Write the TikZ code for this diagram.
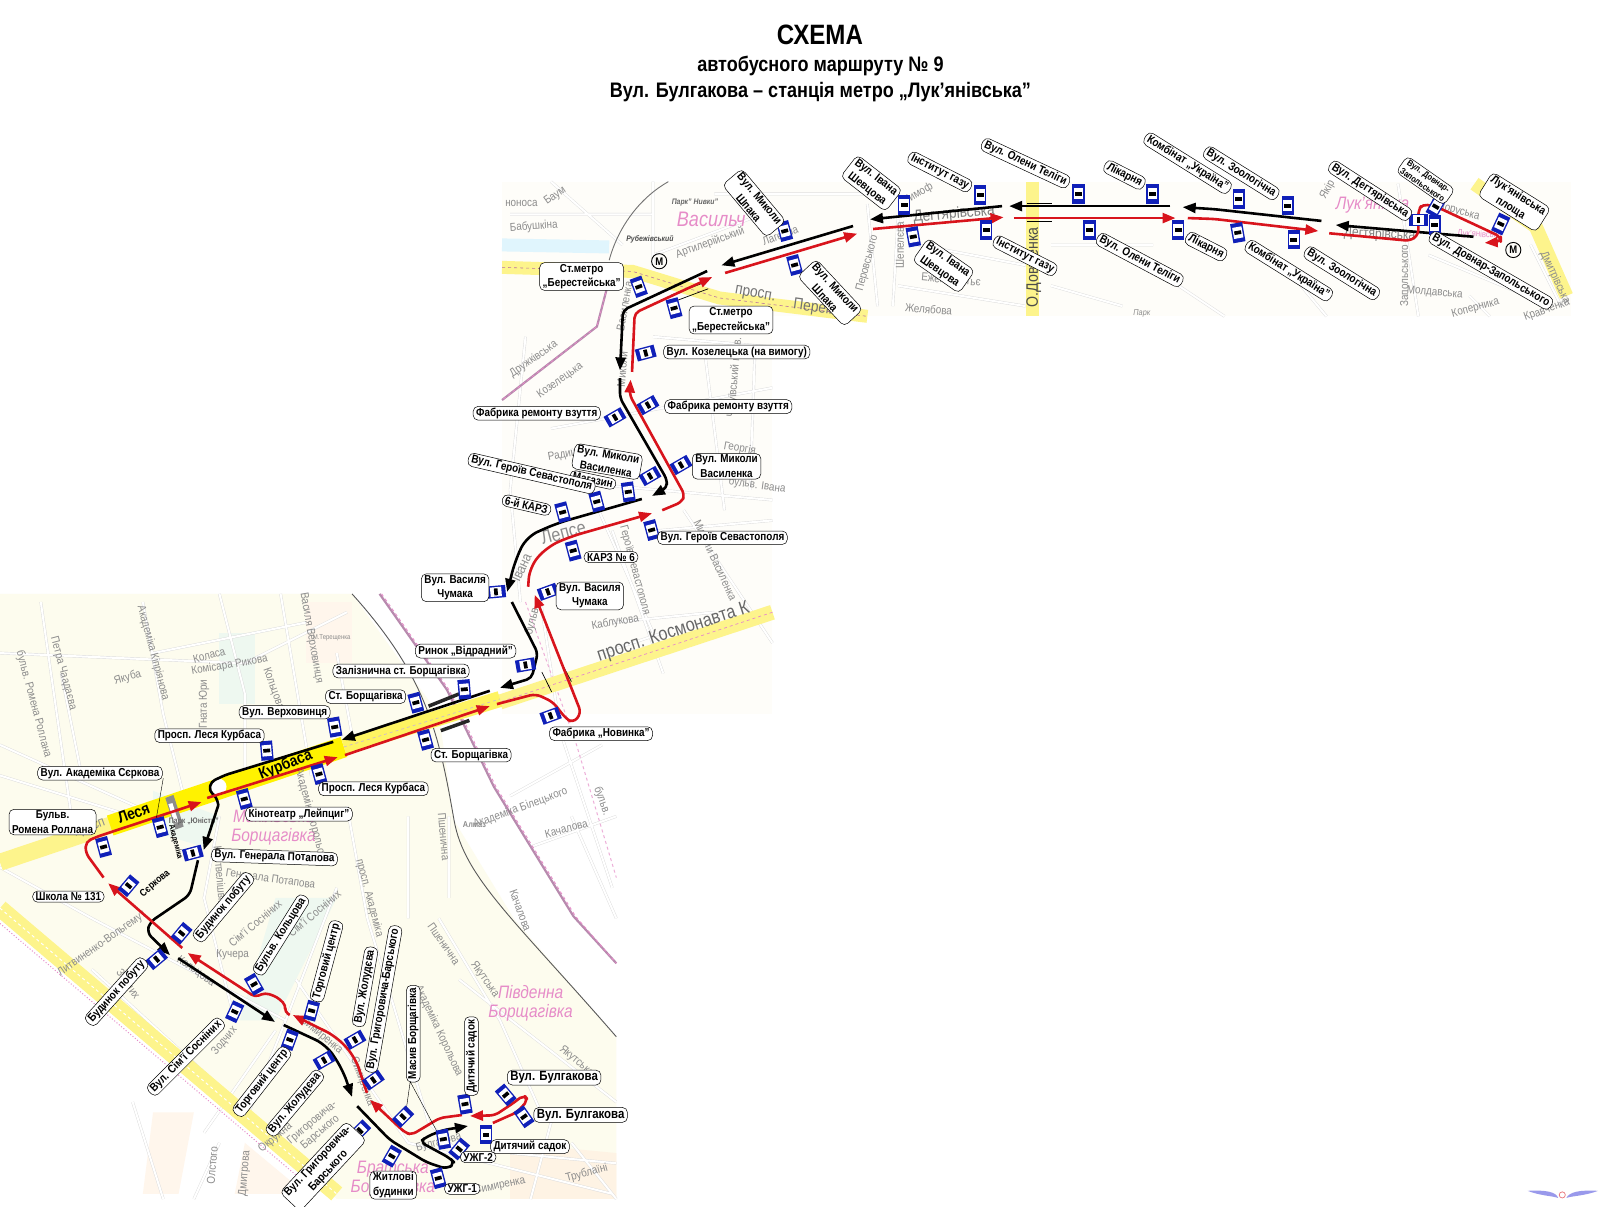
\documentclass[tikz,border=0pt]{standalone}
\usepackage{fontspec}
\setmainfont[FakeStretch=0.86]{Liberation Sans}
\usetikzlibrary{arrows.meta}
\definecolor{cream}{HTML}{FDFCEE}
\definecolor{mroad}{HTML}{FDF48C}
\definecolor{sroad}{HTML}{FFF200}
\definecolor{stopblue}{HTML}{1020B8}
\definecolor{rred}{HTML}{D8141C}
\definecolor{pinkd}{HTML}{E68CC8}
\definecolor{railp}{HTML}{B88AAE}
\definecolor{parkg}{HTML}{EEF8F0}
\tikzset{
 x=1.0204pt,y=-1.0204pt,
 lab/.style={draw=black,line width=.5pt,fill=white,rounded corners=5pt,font=\bfseries\fontsize{11.5}{14.5}\selectfont,align=center,inner xsep=3pt,inner ysep=1.5pt},
 bigl/.style={lab,font=\bfseries\fontsize{13.3}{15}\selectfont},
 tinyl/.style={lab,font=\bfseries\fontsize{8.8}{10.5}\selectfont},
 blk/.style={draw=black,line width=2.6pt,line join=round,rounded corners=5pt},
 redr/.style={draw=rred,line width=2.6pt,line join=round,rounded corners=5pt},
 tipp/.style={-{Triangle[length=13pt,width=10pt]}},
 street/.style={draw=black!14,double=white,double distance=2pt,line width=.4pt,line join=round},
 sname/.style={text=black!45,font=\fontsize{11.5}{12.5}\selectfont,inner sep=0pt,align=center},
 pname/.style={text=pinkd,font=\itshape\fontsize{18}{19}\selectfont,inner sep=0pt,align=center},
 bname/.style={text=black,font=\bfseries\fontsize{16}{18}\selectfont,inner sep=0pt},
}
\newcounter{lbn}
\newcommand{\lab}[5][lab]{\stepcounter{lbn}\node[#1,rotate=#4] (L\thelbn) at (#2,#3) {#5};}
\newcommand{\sn}[5][sname]{\stepcounter{lbn}\node[#1,rotate=#4] (S\thelbn) at (#2,#3) {#5};}
\newcommand{\stopsign}[3]{\begin{scope}[shift={(#1,#2)},rotate=#3]
 \fill[stopblue] (-6,-9.5) rectangle (6,9.5);
 \fill[white] (-4.6,-5.5) rectangle (4.6,5.5);
 \fill[black] (-3.4,-1.8) rectangle (3.4,1.8);
 \end{scope}}
\begin{document}
\begin{tikzpicture}
\useasboundingbox (0,0) rectangle (1568,1181.9);
\fill[white] (0,0) rectangle (1568,1181.9);
% ---------- map ground
\fill[cream,opacity=.35] (492,178) rectangle (1540,310);
\fill[cream,opacity=.35] (492,310) rectangle (757,700);
\fill[cream] (0,582) -- (345,582) -- (430,700) -- (445,804) -- (504,901) -- (604,1016) -- (604,1175) -- (330,1175) -- (0,890) -- cycle;
\fill[white] (0,900) -- (330,1175) -- (0,1175) -- cycle;
\fill[parkg] (215,620) rectangle (250,690);
\fill[parkg] (150,775) -- (215,800) -- (200,830) -- (150,815) -- cycle;
\fill[parkg] (270,880) -- (330,880) -- (270,1000) -- (235,1000) -- cycle;
\fill[cream!70!orange!22] (150,1090) -- (190,1090) -- (175,1170) -- (140,1170) -- cycle;
\fill[cream!70!orange!22] (240,1120) -- (300,1170) -- (230,1170) -- cycle;
\fill[cream!70!orange!30] (500,1120) -- (604,1130) -- (604,1175) -- (500,1175) -- cycle;
\fill[cream!70!orange!22] (300,590) rectangle (345,650);
% ---------- streets lower map
\draw[street]
 (0,640)--(240,650)--(340,600) (0,730)--(155,800) (0,760)--(130,800) (40,590)--(70,800)
 (140,590)--(160,700)--(180,780) (215,582)--(240,680)--(240,760) (275,582)--(305,760) (330,640)--(345,720)
 (60,660)--(80,760) (150,640)--(300,610) (0,850)--(90,900) (90,900)--(280,1000) (215,800)--(200,880)--(230,1000)
 (330,870)--(280,1000)--(240,1100) (340,790)--(360,900)--(420,1100)--(450,1130) (400,800)--(400,900)
 (290,960)--(400,1120)--(600,1170) (430,900)--(490,1000)--(530,1090) (450,960)--(604,1080)
 (440,800)--(440,880) (500,780)--(590,730) (520,830)--(604,800) (560,800)--(604,900) (550,720)--(600,870)
 (270,1010)--(200,1110) (90,950)--(210,1060)--(310,1150) (130,1080)--(160,1175) (215,1120)--(190,1175)
 (500,1130)--(604,1140) (540,1100)--(520,1175) (560,1120)--(604,1175);
% ---------- streets middle and top maps
\draw[street]
 (515,330)--(500,480)--(510,590) (540,420)--(757,380) (530,470)--(757,490) (560,440)--(640,620) (600,520)--(650,660)
 (670,500)--(757,630) (690,340)--(710,500) (740,340)--(735,480) (645,520)--(757,510) (530,590)--(545,690)
 (640,330)--(757,340) (600,610)--(700,600) (590,640)--(650,620)
 (500,210)--(640,210) (540,178)--(610,240) (640,178)--(640,260) (640,250)--(760,205) (700,190)--(860,190)
 (850,200)--(860,300) (880,215)--(875,300) (900,240)--(1005,260) (880,280)--(1005,300) (1030,240)--(1130,240)
 (1030,280)--(1100,300) (1140,270)--(1200,310) (1250,250)--(1300,310) (1370,180)--(1390,310) (1400,250)--(1520,300)
 (1440,290)--(1460,310) (1500,240)--(1530,300);
% ---------- railways
\draw[black!65,line width=.9pt] (345,582) .. controls (418,663) and (430,718) .. (445,804) .. controls (455,860) and (504,901) .. (604,1016);
\draw[railp,line width=2.2pt] (372,582) -- (438,676) -- (484,771) -- (562,898) -- (604,944);
\draw[pinkd,line width=.9pt,dashed] (374,582) -- (440,676) -- (486,771) -- (564,898) -- (604,944);
\draw[pinkd!70,line width=1pt,dashed] (515,590) -- (565,730) -- (604,860);
\draw[black!55,line width=.9pt] (655,178) .. controls (625,195) and (605,225) .. (597,255);
\draw[cyan!12,line width=13pt] (492,240) -- (597,242);
\draw[railp,line width=2.2pt] (598,270) -- (585,320) -- (492,392);
\draw[pinkd,line width=.8pt,dashed] (598,270) -- (585,320) -- (492,392);
% ---------- main roads
\draw[mroad,line width=13pt] (492,262) -- (620,266) -- (705,292) -- (850,310);
\draw[pinkd!80!black,line width=.6pt,dashed] (492,262) -- (620,266) -- (705,292) -- (850,310);
\draw[mroad,line width=13pt] (1012,178) -- (1012,310);
\draw[mroad,line width=14pt] (1445,180) -- (1505,222) -- (1535,290);
\draw[mroad,line width=15pt] (757,600) -- (490,688);
\draw[mroad,line width=17pt] (0,845) -- (110,808);
\draw[mroad,line width=17pt] (0,890) -- (330,1170);
\draw[white,line width=1pt,dashed] (0,890) -- (330,1170);
\draw[pinkd,line width=1pt,dotted] (0,905) -- (300,1160);
\draw[sroad,line width=21pt] (108,809) -- (337,732);
\draw[mroad!70!sroad,line width=16pt] (337,732) -- (490,685);
\draw[pinkd!60!black!40,line width=.7pt,dashed] (337,732) -- (490,685);
\draw[pinkd,line width=.7pt,dashed] (757,600) -- (490,688);
\fill[black!45] (162,782) -- (170,779) -- (180,810) -- (172,813) -- cycle;
\fill[white] (165,788) -- (169,787) -- (175,806) -- (171,807) -- cycle;
% ---------- street names
\sn{511}{199}{0}{ноноса}\sn{544}{192}{35}{Баум}\sn{523}{222}{4}{Бабушкіна}
\sn[sname,font=\bfseries\itshape\fontsize{8}{9}\selectfont,text=black!70]{637}{235}{0}{Рубежівський}
\sn[sname,font=\bfseries\itshape\fontsize{8}{9}\selectfont,text=black!60]{681}{199}{0}{Парк” Нивки”}
\sn[pname,font=\itshape\fontsize{21}{23}\selectfont]{697}{215}{0}{Васильч}\sn{696}{238}{20}{Артилерійський}
\sn{765}{232}{20}{Лагерна}\sn{850}{258}{75}{Перовського}\sn{882}{240}{90}{Шепелєва}
\sn[sname,font=\fontsize{16}{18}\selectfont,text=black!50]{935}{210}{5}{Дегтярівська}
\sn[sname,font=\fontsize{16}{17}\selectfont,text=black!55]{740}{289}{-10}{просп.}
\sn[sname,font=\fontsize{16}{17}\selectfont,text=black!55]{808}{303}{-8}{Перемоги}
\sn{932}{274}{-5}{Ежена Потьє}\sn{910}{303}{-5}{Желябова}\sn{900}{190}{30}{Тимоф}
\sn[sname,font=\fontsize{16.5}{18}\selectfont,text=black!70]{1013}{262}{90}{О.Довженка}
\sn[sname,font=\itshape\fontsize{8.5}{9}\selectfont]{1119}{307}{0}{Парк}
\sn[pname]{1345}{201}{0}{Лук’янівка}\sn[sname,font=\fontsize{14}{15}\selectfont,text=black!50]{1352}{230}{-3}{Дегтярівська}
\sn{1376}{270}{90}{Запольського}\sn{1406}{287}{-5}{Молдавська}\sn{1446}{302}{15}{Коперника}
\sn{1524}{272}{-65}{Дмитрівська}\sn{1516}{304}{20}{Кравченка}\sn{1301}{186}{60}{Якір}\sn{1426}{206}{-15}{Білоруська}
\sn[sname,font=\fontsize{9}{10}\selectfont,text=pinkd]{1450}{230}{-3}{Лук’янівська}
\sn{523}{352}{35}{Дружківська}\sn{549}{373}{35}{Козелецька}\sn{610}{362}{85}{Миколи}
\sn{612}{300}{80}{Василенка}\sn{560}{445}{10}{Радищева}\sn[sname,font=\fontsize{19}{20}\selectfont]{552}{522}{15}{Лепсе}
\sn[sname,font=\fontsize{14}{15}\selectfont]{511}{556}{65}{Івана}\sn[sname,font=\fontsize{12}{13}\selectfont]{522}{608}{75}{бульв.}
\sn{725}{440}{-10}{Георгія}\sn{742}{476}{-8}{бульв. Івана}\sn{701}{549}{-65}{Миколи Василенка}\sn{622}{559}{-75}{Героїв Севастополя}
\sn{603}{610}{10}{Каблукова}\sn{720}{370}{85}{Чугуївський пров.}
\sn[sname,font=\fontsize{19}{20}\selectfont,text=black!60]{660}{620}{18}{просп. Космонавта К}
\sn{125}{664}{15}{Якуба}\sn{205}{642}{15}{Коласа}\sn{62}{660}{-75}{Петра Чаадаєва}\sn{33}{690}{-75}{бульв. Ромена Роллана}
\sn{150}{640}{-75}{Академіка Кіпріянова}\sn{200}{690}{90}{Гната Юри}\sn{225}{652}{10}{Комісара Рикова}\sn{268}{675}{-70}{Кольцова}
\sn{305}{625}{-80}{Василя Верховинця}\sn[sname,font=\fontsize{7}{8}\selectfont]{325}{625}{0}{М.Терещенка}
\sn[bname]{280}{750}{22}{Курбаса}\sn[bname]{131}{797}{20}{Леся}\sn[sname,font=\fontsize{14}{15}\selectfont]{88}{812}{20}{просп}
\sn[sname,font=\bfseries\fontsize{8}{9}\selectfont,text=black!60]{190}{805}{0}{Парк „Юність”}
\sn[sname,font=\bfseries\fontsize{8}{9}\selectfont,text=black]{172}{825}{-75}{Академіка}
\sn[sname,font=\bfseries\fontsize{10}{11}\selectfont,text=black]{152}{866}{40}{Сєркова}
\sn[pname]{268}{811}{0}{Микільська\\Борщагівка}
\sn{215}{860}{-85}{Картвелішвілі}\sn{265}{862}{-8}{Генерала Потапова}\sn{362}{880}{-75}{просп. Академіка}
\sn{305}{800}{-75}{Академіка Корольова}\sn{435}{820}{-85}{Пшенична}\sn[sname,font=\bfseries\fontsize{8.5}{9}\selectfont]{465}{808}{0}{Алмаз}
\sn{510}{792}{20}{Академіка Білецького}\sn{555}{812}{15}{Качалова}\sn{590}{785}{-70}{бульв.}\sn{510}{892}{-70}{Качалова}
\sn{100}{925}{35}{Литвиненко-Вольгемут}\sn{192}{952}{-35}{Кольцова}\sn{228}{936}{0}{Кучера}\sn{125}{965}{-55}{Зодчих}
\sn{250}{905}{40}{Сім’ї Сосніних}\sn{308}{895}{40}{Сім’ї Сосніних}\sn{220}{1020}{50}{Зодчих}
\sn{315}{1015}{-40}{Симиренка}\sn{355}{1060}{-70}{Симиренка}\sn{270}{1115}{40}{Окружна}\sn{310}{1105}{40}{Григоровича-\\Барського}
\sn{430}{1010}{-65}{Академіка Корольова}\sn{435}{925}{-55}{Пшенична}\sn{475}{960}{-55}{Якутська}\sn{565}{1040}{-40}{Якутська}
\sn{430}{1120}{15}{Булгакова}\sn{490}{1162}{12}{Симиренка}\sn{575}{1150}{15}{Трублаїні}\sn{208}{1142}{85}{Олстого}\sn{240}{1150}{85}{Дмитрова}
\sn[pname]{520}{983}{0}{Південна\\Борщагівка}\sn[pname]{385}{1155}{0}{Братська\\Борщагівка}
% ---------- bridges
\draw[black,line width=.7pt] (1006,199) -- (1031,199) (1006,216.5) -- (1031,216.5);
\draw[black,line width=.7pt] (658,289) -- (690,277) (662,295) -- (694,283);
\draw[black!85,line width=3.5pt] (420,692) -- (450,680);
\draw[black!85,line width=3.5pt] (432,716) -- (460,706);
\draw[black,line width=.7pt] (531,658.6) -- (540.6,678) (550,649) -- (560,668);
% ---------- roundabout
\fill[white] (214,771) circle (8);
% ---------- black route
\draw[blk,tipp] (1444,232) -- (1309,220.5);
\draw[blk,tipp] (1295,216.5) -- (1190,205) -- (1159,203);
\draw[blk,tipp] (1147,202) -- (989,202);
\draw[blk,tipp] (982,202) -- (852.6,215);
\draw[blk,tipp] (836,221.5) -- (707,260);
\draw[blk,tipp] (693,265.6) -- (610.5,304) -- (607.6,363);
\draw[blk,tipp] (607.6,370.6) -- (607.6,390) -- (653.6,470) -- (653.6,478) -- (639,486);
\draw[blk,tipp,rounded corners=12pt] (629,489) -- (546,512.7) -- (516,526) -- (505,549) -- (497,580);
\draw[blk,tipp] (501.6,590) -- (527,640) -- (521,664.6) -- (490,674);
\draw[blk,tipp] (480,677) -- (335,725);
\draw[blk,rounded corners=4pt] (326.6,727) -- (220.7,759.5) -- (207,766) -- (205,775) -- (212,781) -- (214,789);
\draw[blk,tipp] (214,789) -- (199.6,833);
\draw[blk,tipp,rounded corners=6pt] (194,843) -- (186,877) -- (147,903.6) -- (144,914) -- (166.6,936);
\draw[blk,tipp] (174.6,939) -- (269.5,1001.5);
\draw[blk,tipp,rounded corners=12pt] (278,1004.5) -- (320,1024) -- (336,1048.6) -- (345,1075);
\draw[blk,tipp,rounded corners=6pt] (350,1084) -- (382,1117) -- (418,1139) -- (438,1145.6) -- (446,1140) -- (441,1135) -- (411.6,1119) -- (418,1114) -- (434,1107.5) -- (458.6,1103.5);
% ---------- red route
\draw[redr,tipp] (483,1100.5) -- (506.6,1090) -- (517.5,1078) -- (513.5,1073) -- (503,1081) -- (485,1093) -- (460.6,1093.6);
\draw[redr,tipp] (452.7,1092.7) -- (431,1095.6) -- (403.6,1112) -- (397,1110) -- (362.6,1078);
\draw[redr,tipp,rounded corners=12pt] (359.6,1071) -- (348,1036) -- (330,1016) -- (287,994.7);
\draw[redr,tipp,rounded corners=4pt] (284,994.6) -- (279,991.6) -- (280,985) -- (271.5,977) -- (260,973) -- (250,977) -- (184,934);
\draw[redr,tipp] (178.6,929) -- (106,865.6);
\draw[redr,tipp] (101.5,860) -- (84,836) -- (84,825) -- (95,820) -- (197.6,786);
\draw[redr,tipp] (203,782) -- (331,742);
\draw[redr,tipp] (338,740) -- (480,692);
\draw[redr,tipp,rounded corners=6pt] (487,690) -- (525,680) -- (542,688) -- (554,703.6) -- (561.5,708.6) -- (569.7,699) -- (524,583);
\draw[redr,tipp,rounded corners=12pt] (517.6,575) -- (519,555.5) -- (536,536) -- (558.6,526) -- (639,503);
\draw[redr,tipp,rounded corners=5pt] (649,500) -- (668,492) -- (671,485) -- (617,387) -- (618,372);
\draw[redr,tipp,rounded corners=5pt] (619.4,364.5) -- (622,306.7) -- (698,271.5);
\draw[redr,tipp] (710.6,267.5) -- (840,229);
\draw[redr,tipp] (855.6,224.4) -- (983.5,212.9);
\draw[redr,tipp] (993.7,213.7) -- (1152,213.7);
\draw[redr,tipp] (1164,213.7) -- (1190,214.6) -- (1292,226.4);
\draw[redr,tipp,rounded corners=5pt] (1302.6,228.6) -- (1382,236) -- (1390,230) -- (1390,206) -- (1394,200) -- (1407.7,202.6) -- (1470.7,232) -- (1470.7,237) -- (1455,238);
% ---------- metro signs
\node[draw=black,circle,line width=.9pt,inner sep=1.5pt,font=\bfseries\fontsize{11}{11}\selectfont] (m1) at (646,256) {M};
\node[draw=black,circle,line width=.9pt,inner sep=1.5pt,font=\bfseries\fontsize{11}{11}\selectfont] (m2) at (1483,245) {M};
% ---------- leader lines
\draw[black,line width=.4pt] (402,1060) -- (398,1088) (402,1060) -- (431,1114);
\draw[black,line width=.4pt] (160,762.6) -- (153,803);
% ---------- stops
\foreach \a/\b/\r in {769/226.4/15,778.7/259.7/15,626/281/20,660.6/302/15,886/201/0,895/232/10,960.6/191/0,966.6/225.4/0,
 1057/190/0,1129.5/190/0,1067.6/225.4/0,1154.5/225.4/0,1214/195/0,1262/201.6/0,1213/228/10,1268/235/0,1390/215.6/90,1406/220.5/0,1407/202.5/-30,1470.7/219.5/-25,
 632.8/346/-75,635/397/-60,602.7/409/-60,637/466.5/-60,667.4/455.7/-60,615.7/482/8,584.8/491.6/15,551.4/502/15,638.6/519.4/15,561.7/539.6/15,537/580/-70,486/580/-85,
 515/651.7/-80,455/675.5/5,407.5/688.6/15,539.6/701.4/-70,417/725/15,328/712.5/10,261.4/735.6/5,312.6/758.6/15,239.4/783/15,157/810.6/15,101.5/830/15,189/836/-75,126/868/-40,
 178/914.6/-40,153.5/940/-50,249/964.6/30,230/991.5/-25,305.4/990.5/-15,284/1019/-20,317.6/1039/-60,
 347.9/1019/-60,365.9/1058.4/-55,352.8/1108/-45,395/1094.4/-45,384/1133/-30,455.7/1082/10,434.5/1116.4/10,450/1126/-40,429.5/1154.6/15,476.3/1112/0,495.6/1073/40,513.5/1094.4/35}
 {\stopsign{\a}{\b}{\r}}
% ---------- labels top
\lab{739}{199}{-50}{Вул. Миколи\\Шпака}
\lab{854}{179.6}{-38}{Вул. Івана\\Шевцова}
\lab{921}{168.5}{-27}{Інститут газу}
\lab{1005}{160}{-25}{Вул. Олени Теліги}
\lab{570}{271}{0}{Ст.метро\\„Берестейська”}
\lab{716.4}{313.6}{0}{Ст.метро\\„Берестейська”}
\lab{813.6}{287}{-47}{Вул. Миколи\\Шпака}
\lab{924.7}{260.4}{-35}{Вул. Івана\\Шевцова}
\lab{1004.5}{250.6}{-27}{Інститут газу}
\lab{722}{345}{0}{Вул. Козелецька (на вимогу)}
\lab{1102}{171.5}{-27}{Лікарня}
\lab{1163.8}{160}{-32}{Комбінат „Україна”}
\lab{1216.4}{169.8}{-32}{Вул. Зоологічна}
\lab{1342.7}{187}{-33}{Вул. Дегтярівська}
\lab[tinyl]{1397}{177}{-35}{Вул. Довнар-\\Запольського}
\lab{1484}{198}{-32}{Лук’янівська\\площа}
\lab{1117}{254.8}{-28}{Вул. Олени Теліги}
\lab{1182}{241.7}{-27}{Лікарня}
\lab{1263}{265.2}{-32}{Комбінат „Україна”}
\lab{1315}{267.8}{-32}{Вул. Зоологічна}
\lab{1461}{265}{-30}{Вул. Довнар-Запольського}
% ---------- labels middle
\lab{713.7}{398.5}{0}{Фабрика ремонту взуття}
\lab{526}{405}{0}{Фабрика ремонту взуття}
\lab{595}{452.4}{-10}{Вул. Миколи\\Василенка}
\lab{712}{457}{0}{Вул. Миколи\\Василенка}
\lab{581}{470.4}{-12}{Магазин}
\lab{521}{464}{-13}{Вул. Героїв Севастополя}
\lab{516}{495}{-13}{6-й КАРЗ}
\lab{708}{527}{0}{Вул. Героїв Севастополя}
\lab{598.8}{546}{0}{КАРЗ № 6}
\lab{578}{584}{0}{Вул. Василя\\Чумака}
\lab{446}{576}{0}{Вул. Василя\\Чумака}
% ---------- labels lower
\lab{456.3}{638}{0}{Ринок „Відрадний”}
\lab{393}{657.6}{0}{Залізнична ст. Борщагівка}
\lab{358.3}{682.7}{0}{Ст. Борщагівка}
\lab{279}{698}{0}{Вул. Верховинця}
\lab{205.3}{721}{0}{Просп. Леся Курбаса}
\lab{98}{757.7}{0}{Вул. Академіка Сєркова}
\lab{51.5}{805.6}{0}{Бульв.\\Ромена Роллана}
\lab{589}{719}{0}{Фабрика „Новинка”}
\lab{461.7}{740}{0}{Ст. Борщагівка}
\lab{366}{773}{0}{Просп. Леся Курбаса}
\lab{293}{797.8}{0}{Кінотеатр „Лейпциг”}
\lab{269}{840}{-2}{Вул. Генерала Потапова}
\lab{67}{878.7}{0}{Школа № 131}
\lab{219}{889}{50}{Будинок побуту}
\lab{114.3}{971.8}{48}{Будинок побуту}
\lab{275.4}{916.3}{58}{Бульв. Кольцова}
\lab{320}{942}{75}{Торговий центр}
\lab{182.3}{1035.5}{45}{Вул. Сім’ї Сосніних}
\lab{256.7}{1060}{52}{Торговий центр}
\lab{289}{1081}{50}{Вул. Жолудєва}
\lab{316.7}{1143}{47}{Вул. Григоровича-\\Барського}
\lab{357.7}{967}{80}{Вул. Жолудєва}
\lab{375.6}{979}{80}{Вул. Григоровича-Барського}
\lab{405}{1013}{90}{Масив Борщагівка}
\lab{462}{1035}{90}{Дитячий садок}
\lab[bigl]{543}{1056}{0}{Вул. Булгакова}
\lab[bigl]{569}{1092.6}{0}{Вул. Булгакова}
\lab{519.4}{1123.7}{0}{Дитячий садок}
\lab{468.6}{1134}{0}{УЖГ-2}
\lab{453}{1165}{0}{УЖГ-1}
\lab{385.5}{1161.4}{0}{Житлові\\будинки}
% ---------- title
\node[font=\bfseries\fontsize{28}{30}\selectfont] (t1) at (803.5,34) {СХЕМА};
\node[font=\bfseries\fontsize{21}{23}\selectfont] (t2) at (804,65) {автобусного маршруту № 9};
\node[font=\bfseries\fontsize{21}{23}\selectfont] (t3) at (804,90) {Вул. Булгакова – станція метро „Лук’янівська”};
% ---------- logo
\fill[black!20!blue!40] (1497,1167) .. controls (1515,1166) and (1525,1168) .. (1527,1174) .. controls (1522,1172) and (1510,1172) .. cycle;
\fill[black!20!blue!40] (1566,1167) .. controls (1548,1166) and (1538,1168) .. (1535,1174) .. controls (1540,1172) and (1553,1172) .. cycle;
\draw[rred!60,line width=.7pt] (1531,1171) circle (3);
\end{tikzpicture}
\end{document}
